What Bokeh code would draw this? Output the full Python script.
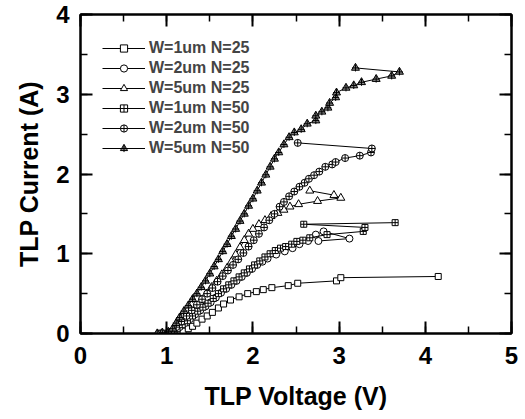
from bokeh.plotting import figure
from bokeh.models import (LinearAxis, SingleIntervalTicker, Legend, LegendItem,
                          CustomJSTickFormatter)
from bokeh.embed import file_html
from bokeh.resources import INLINE

# ---- data (TLP voltage V, TLP current A) ----
w1n25_v = [0.95, 1.05, 1.13, 1.19, 1.25, 1.30, 1.35, 1.41, 1.47, 1.53, 1.60, 1.66, 1.74, 1.84,
           1.94, 2.04, 2.12, 2.22, 2.41, 2.52, 2.97, 3.02, 4.15]
w1n25_i = [0.00, 0.00, 0.01, 0.03, 0.06, 0.09, 0.13, 0.18, 0.22, 0.265, 0.32, 0.37, 0.42, 0.46,
           0.50, 0.525, 0.55, 0.575, 0.60, 0.63, 0.66, 0.70, 0.715]

w2n25_v = [0.93, 1.03, 1.09, 1.15, 1.21, 1.27, 1.33, 1.39, 1.45, 1.51, 1.57, 1.63, 1.69, 1.75,
           1.81, 1.87, 1.93, 1.99, 2.05, 2.11, 2.17, 2.27, 2.37, 2.46, 2.54, 2.64, 2.73, 2.82,
           3.12, 2.76]
w2n25_i = [0.00, 0.01, 0.04, 0.08, 0.13, 0.18, 0.24, 0.29, 0.34, 0.39, 0.45, 0.51, 0.56, 0.61,
           0.66, 0.71, 0.76, 0.81, 0.86, 0.90, 0.94, 0.99, 1.03, 1.07, 1.12, 1.16, 1.24, 1.28,
           1.19, 1.16]

w5n25_v = [0.94, 1.04, 1.10, 1.16, 1.22, 1.28, 1.34, 1.40, 1.46, 1.52, 1.58, 1.64, 1.70, 1.75,
           1.80, 1.85, 1.90, 1.95, 2.00, 2.07, 2.14, 2.21, 2.29, 2.36, 2.43, 2.53, 2.75, 3.02,
           2.94, 2.66]
w5n25_i = [0.00, 0.01, 0.05, 0.11, 0.18, 0.26, 0.34, 0.42, 0.50, 0.58, 0.66, 0.74, 0.82, 0.90,
           0.99, 1.08, 1.17, 1.25, 1.31, 1.37, 1.42, 1.47, 1.51, 1.55, 1.59, 1.62, 1.66, 1.70,
           1.735, 1.79]

w1n50_v = [0.92, 1.00, 1.06, 1.12, 1.18, 1.24, 1.30, 1.36, 1.42, 1.48, 1.54, 1.60, 1.66, 1.72,
           1.78, 1.84, 1.90, 1.96, 2.02, 2.08, 2.14, 2.20, 2.26, 2.32, 2.38, 2.45, 2.51, 2.58,
           2.66, 2.86, 3.28, 3.30, 2.59, 3.65]
w1n50_i = [0.00, 0.00, 0.02, 0.06, 0.11, 0.16, 0.22, 0.28, 0.33, 0.38, 0.44, 0.50, 0.56, 0.61,
           0.66, 0.71, 0.76, 0.81, 0.86, 0.91, 0.96, 1.00, 1.04, 1.07, 1.09, 1.12, 1.155, 1.17,
           1.20, 1.24, 1.28, 1.33, 1.37, 1.39]

w2n50_v = [0.91, 0.98, 1.05, 1.11, 1.17, 1.23, 1.29, 1.35, 1.41, 1.47, 1.53, 1.59, 1.65, 1.71,
           1.77, 1.83, 1.89, 1.95, 2.01, 2.07, 2.13, 2.19, 2.25, 2.31, 2.36, 2.42, 2.48, 2.54,
           2.60, 2.65, 2.71, 2.77, 2.84, 2.92, 2.96, 3.07, 3.24, 3.37, 3.38, 2.52]
w2n50_i = [0.00, 0.00, 0.02, 0.08, 0.15, 0.22, 0.29, 0.36, 0.43, 0.50, 0.57, 0.65, 0.72, 0.79,
           0.86, 0.93, 1.01, 1.09, 1.17, 1.25, 1.33, 1.42, 1.50, 1.59, 1.65, 1.72, 1.78, 1.84,
           1.89, 1.94, 1.985, 2.03, 2.09, 2.12, 2.15, 2.20, 2.23, 2.27, 2.32, 2.39]

w5n50_v = [0.89, 0.95, 1.02, 1.07, 1.11, 1.15, 1.20, 1.25, 1.30, 1.35, 1.40, 1.45, 1.50, 1.55,
           1.60, 1.65, 1.70, 1.75, 1.80, 1.85, 1.90, 1.95, 2.00, 2.05, 2.10, 2.15, 2.20, 2.25,
           2.30, 2.36, 2.42, 2.48, 2.56, 2.63, 2.73, 2.73, 2.80, 2.87, 2.89, 2.96, 2.97, 3.08,
           3.17, 3.26, 3.43, 3.61, 3.70, 3.19]
w5n50_i = [0.00, 0.01, 0.02, 0.06, 0.13, 0.20, 0.28, 0.35, 0.43, 0.50, 0.58, 0.66, 0.75, 0.84,
           0.93, 1.03, 1.12, 1.22, 1.31, 1.41, 1.50, 1.60, 1.69, 1.79, 1.89, 1.99, 2.09, 2.19,
           2.27, 2.37, 2.46, 2.52, 2.56, 2.63, 2.67, 2.73, 2.78, 2.83, 2.89, 2.96, 3.02, 3.08,
           3.11, 3.15, 3.19, 3.23, 3.28, 3.33]

labels = ["W=1um N=25", "W=2um N=25", "W=5um N=25", "W=1um N=50", "W=2um N=50", "W=5um N=50"]
x_title = "TLP Voltage (V)"
y_title = "TLP Current (A)"

FONT = "Liberation Sans"

p = figure(width=522, height=419, x_range=(0, 5), y_range=(0, 4),
           output_backend="svg", toolbar_location=None,
           min_border_left=80, min_border_right=11, min_border_top=14, min_border_bottom=86)
p.grid.visible = False
p.outline_line_color = "black"
p.outline_line_width = 2

series = [
    (w1n25_v, w1n25_i, [("square", 6, "white")]),
    (w2n25_v, w2n25_i, [("circle", 7, "white")]),
    (w5n25_v, w5n25_i, [("triangle", 8, "white")]),
    (w1n50_v, w1n50_i, [("square_cross", 6, "white")]),
    (w2n50_v, w2n50_i, [("circle_cross", 7, "white")]),
    (w5n50_v, w5n50_i, [("triangle", 8, "#888888"), ("cross", 7, None)]),
]

items = []
for (xs, ys, mk), lab in zip(series, labels):
    rs = [p.line(xs, ys, line_color="black", line_width=1)]
    for m, s, fc in mk:
        rs.append(p.scatter(xs, ys, marker=m, size=s, line_color="black", line_width=1,
                            fill_color=fc))
    items.append(LegendItem(label=lab, renderers=rs))

legend = Legend(items=items, location=(12, 166), margin=0, padding=10, spacing=2,
                glyph_height=18, label_height=18, glyph_width=43, label_standoff=4,
                border_line_alpha=0, background_fill_alpha=0,
                label_text_font=FONT, label_text_font_style="bold",
                label_text_font_size="16px")
p.add_layout(legend)


def style_axis(ax, show_labels):
    ax.ticker = SingleIntervalTicker(interval=1, num_minor_ticks=2)
    ax.axis_line_width = 2
    ax.major_tick_in = 12
    ax.major_tick_out = 0
    ax.minor_tick_in = 7
    ax.minor_tick_out = 0
    ax.major_tick_line_width = 2
    ax.minor_tick_line_width = 1.5
    if show_labels:
        ax.major_label_text_font = FONT
        ax.major_label_text_font_style = "bold"
        ax.major_label_text_font_size = "24px"
        ax.major_label_text_color = "black"
        ax.axis_label_text_font = FONT
        ax.axis_label_text_font_style = "bold"
        ax.axis_label_text_font_size = "25px"
        ax.axis_label_text_color = "black"
    else:
        ax.formatter = CustomJSTickFormatter(code="return ''")
        ax.major_label_standoff = 0


xa = p.xaxis[0]
ya = p.yaxis[0]
style_axis(xa, True)
style_axis(ya, True)
xa.axis_label = x_title
ya.axis_label = y_title
xa.major_label_standoff = 13
xa.axis_label_standoff = 15
ya.major_label_standoff = 11
ya.axis_label_standoff = 10

top_ax = LinearAxis()
right_ax = LinearAxis()
style_axis(top_ax, False)
style_axis(right_ax, False)
p.add_layout(top_ax, "above")
p.add_layout(right_ax, "right")

open("out.html", "w").write(file_html(p, INLINE))
